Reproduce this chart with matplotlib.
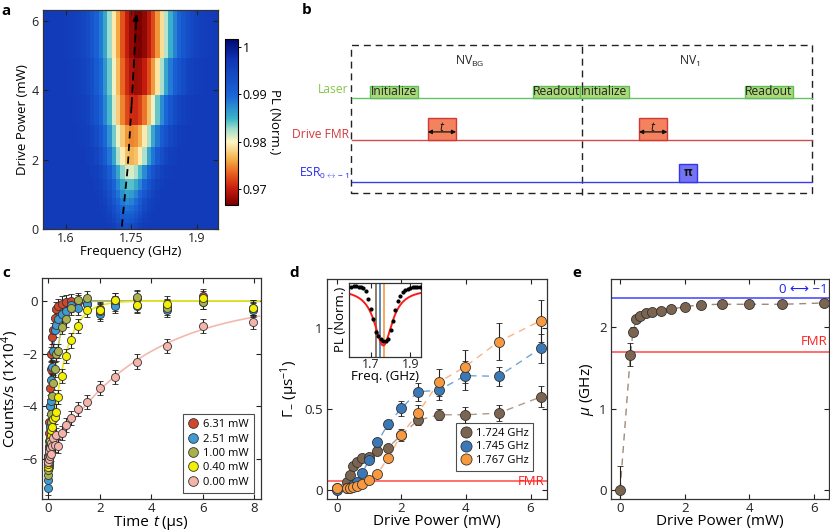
import numpy as np
import matplotlib
matplotlib.use('Agg')
import matplotlib.pyplot as plt
from matplotlib.colors import LinearSegmentedColormap
from matplotlib.patches import Rectangle
from matplotlib.lines import Line2D
from matplotlib.offsetbox import TextArea, HPacker, AnchoredOffsetbox

plt.rcParams['font.family'] = ['Open Sans', 'DejaVu Sans']
plt.rcParams['mathtext.fontset'] = 'custom'
plt.rcParams['mathtext.rm'] = 'Open Sans'
plt.rcParams['mathtext.it'] = 'Open Sans:italic'
plt.rcParams['mathtext.bf'] = 'Open Sans:bold'
plt.rcParams['axes.unicode_minus'] = True

# ---------------- panel a data ----------------
heat_row_edges = [0, 0.16, 0.33, 0.42, 0.53, 0.68, 0.88, 1.12, 1.43, 1.84, 2.35, 3.01, 3.85, 4.93, 6.31]
heat_center = [1.740, 1.740, 1.741, 1.741, 1.742, 1.742, 1.743, 1.745, 1.747, 1.750, 1.752, 1.756, 1.762, 1.766]
heat_min = [0.9935, 0.992, 0.991, 0.990, 0.989, 0.9875, 0.986, 0.984, 0.981, 0.9765, 0.9745, 0.9705, 0.968, 0.9665]
heat_fwhm = [0.045, 0.050, 0.052, 0.055, 0.058, 0.060, 0.065, 0.070, 0.075, 0.085, 0.095, 0.105, 0.115, 0.125]
heat_base = 0.9965
heat_freq_edges = np.arange(1.545, 1.9551, 0.01)
ridge_P = [0.07, 1.76, 3.57, 6.2]
ridge_f = [1.728, 1.7415, 1.7505, 1.762]
cbar_ticks = [0.97, 0.98, 0.99, 1.0]
cbar_labels = ['0.97', '0.98', '0.99', '1']

# ---------------- panel b data (timing, arbitrary units 0..100) ----------------
laser_pulses = [(4.0, 14.3, 'Initialize'), (39.4, 49.6, 'Readout'), (49.6, 60.2, 'Initialize'), (85.4, 95.9, 'Readout')]
fmr_pulses = [(16.5, 22.7), (62.4, 68.6)]
esr_pulses = [(71.1, 75.0)]
row_laser, row_fmr, row_esr = 2.0, 1.0, 0.0
h_laser, h_fmr, h_esr = 0.29, 0.52, 0.43

# ---------------- panel c data ----------------
t_c = [0.0, 0.01, 0.02, 0.03, 0.04, 0.06, 0.08, 0.10, 0.13, 0.16, 0.20, 0.26, 0.30, 0.40, 0.52,
       0.68, 0.87, 1.14, 1.50, 2.00, 2.60, 3.45, 4.60, 6.00, 7.95]
c_631 = [-6.0, -5.9, -5.5, -5.0, -4.6, -4.0, -3.3, -2.6, -2.0, -1.35, -1.1, -0.65, -0.3, -0.2, -0.1,
         -0.05, 0.0, -0.05, -0.1, -0.3, -0.1, 0.1, -0.2, 0.2, -0.3]
c_251 = [-7.1, -6.8, -6.2, -5.6, -5.3, -4.8, -4.0, -3.8, -3.0, -2.5, -1.9, -1.1, -0.9, -0.7, -0.5,
         -0.4, -0.15, -0.25, -0.1, -0.5, -0.2, -0.2, -0.35, -0.05, -0.35]
c_100 = [-6.6, -6.4, -6.3, -6.1, -5.8, -5.5, -5.2, -4.6, -4.3, -3.6, -3.1, -2.6, -2.0, -1.9, -1.0,
         -0.7, -0.25, 0.05, 0.1, -0.4, 0.05, 0.15, -0.25, -0.05, -0.25]
c_040 = [-6.3, -6.2, -6.0, -6.1, -5.9, -5.6, -5.3, -5.1, -4.9, -4.8, -4.5, -4.4, -4.2, -3.65, -2.85,
         -2.1, -1.5, -0.95, -0.35, -0.35, 0.05, -0.15, -0.1, 0.1, -0.25]
c_000 = [-5.9, -6.1, -5.8, -6.0, -5.7, -5.9, -5.6, -5.8, -5.4, -5.5, -5.2, -5.45, -5.1, -5.5, -5.0,
         -4.7, -4.45, -4.1, -3.85, -3.3, -2.9, -2.3, -1.7, -0.95, -0.8]
c_err = 0.27
c_labels = ['6.31 mW', '2.51 mW', '1.00 mW', '0.40 mW', '0.00 mW']
fit_amp = [7.0, 7.0, 7.0, 7.0, 6.0]
fit_tau = [0.10, 0.15, 0.28, 0.55, 3.5]

# ---------------- panel d data ----------------
power = [0, 0.32, 0.40, 0.50, 0.63, 0.79, 1.00, 1.26, 1.58, 2.00, 2.51, 3.16, 3.98, 5.01, 6.31]
g_1724 = [0.01, 0.05, 0.09, 0.145, 0.17, 0.195, 0.205, 0.24, 0.26, 0.34, 0.43, 0.465, 0.465, 0.475, 0.575]
g_1745 = [0.0, 0.01, 0.02, 0.03, 0.05, 0.105, 0.185, 0.295, 0.405, 0.505, 0.607, 0.617, 0.707, 0.703, 0.876]
g_1767 = [0.012, 0.012, 0.015, 0.02, 0.025, 0.035, 0.06, 0.099, 0.196, 0.34, 0.474, 0.666, 0.763, 0.917, 1.047]
e_1724 = [0.01, 0.01, 0.01, 0.01, 0.01, 0.01, 0.015, 0.02, 0.02, 0.025, 0.03, 0.035, 0.05, 0.05, 0.065]
e_1745 = [0.01, 0.01, 0.01, 0.01, 0.01, 0.01, 0.015, 0.02, 0.025, 0.045, 0.055, 0.06, 0.09, 0.06, 0.09]
e_1767 = [0.01, 0.01, 0.01, 0.01, 0.01, 0.01, 0.015, 0.02, 0.025, 0.035, 0.05, 0.085, 0.10, 0.115, 0.13]
d_labels = ['1.724 GHz', '1.745 GHz', '1.767 GHz']
d_freqs = [1.724, 1.745, 1.767]
fmr_gamma = 0.056
inset_f = [1.600, 1.612, 1.625, 1.637, 1.650, 1.662, 1.675, 1.687, 1.700, 1.712, 1.725, 1.737, 1.750,
           1.762, 1.775, 1.787, 1.800, 1.812, 1.825, 1.837, 1.850, 1.862, 1.875, 1.887, 1.900, 1.912,
           1.925, 1.937, 1.950]
inset_pl = [1.0018, 1.0020, 1.0021, 1.0016, 1.0014, 1.0008, 0.9990, 0.9940, 0.9875, 0.9815, 0.9735,
            0.9712, 0.9690, 0.9675, 0.9680, 0.9690, 0.9745, 0.9800, 0.9870, 0.9925, 0.9960, 0.9985,
            0.9998, 1.0005, 1.0010, 1.0013, 1.0012, 1.0015, 1.0013]
inset_fit = dict(center=1.763, fwhm=0.11, depth=0.0355, base=1.0005)

# ---------------- panel e data ----------------
mu = [0.0, 1.66, 1.946, 2.094, 2.14, 2.17, 2.18, 2.20, 2.22, 2.25, 2.275, 2.28, 2.28, 2.28, 2.296]
mu_err = [0.30, 0.14, 0.05, 0.03, 0.02, 0.02, 0.02, 0.02, 0.02, 0.02, 0.02, 0.02, 0.02, 0.02, 0.02]
esr_level = 2.36
fmr_level = 1.70

# ---------------- styles ----------------
W, H = 830, 530
def rect(x0, y0, x1, y1):
    return [x0 / W, 1 - y1 / H, (x1 - x0) / W, (y1 - y0) / H]

SPINE = '#333333'
col_c = ['#d2472c', '#3f9bd3', '#a9b14c', '#f2f000', '#f5b3aa']
fitcol_c = ['#e4503a', '#4a9bd0', '#b8c064', '#e8e826', '#f4b8ae']
col_d = ['#7b6450', '#3b78b8', '#f8983f']
dash_d = ['#b09a86', '#6ea4d6', '#f8b488']

def style_axes(ax, tick=9, xpad=2):
    for s in ax.spines.values():
        s.set_color(SPINE)
        s.set_linewidth(0.9)
    ax.tick_params(direction='in', length=3.5, width=0.8, top=True, right=True,
                   labelsize=tick, colors='#222222', pad=3)
    ax.tick_params(axis='x', pad=xpad)

fig = plt.figure(figsize=(W / 100, H / 100), dpi=100)

# ================= panel a =================
cmap = LinearSegmentedColormap.from_list('pl', [
    (0.0, '#7a0000'), (0.10, '#c81e10'), (0.19, '#e8601e'), (0.27, '#f2ac44'),
    (0.38, '#fff6c4'), (0.46, '#9edccc'), (0.52, '#3cb4c8'), (0.66, '#1a66d8'),
    (0.88, '#1034b4'), (1.0, '#000a6e')])
vmin, vmax = 0.9665, 1.0018
axa = fig.add_axes(rect(43, 10, 218, 229))
fc = 0.5 * (heat_freq_edges[:-1] + heat_freq_edges[1:])
Z = np.array([heat_base - (heat_base - m) * np.exp(-4 * np.log(2) * (fc - c) ** 2 / w ** 2)
              for c, m, w in zip(heat_center, heat_min, heat_fwhm)])
mesh = axa.pcolormesh(heat_freq_edges, heat_row_edges, Z, cmap=cmap, vmin=vmin, vmax=vmax, shading='flat')
axa.plot(ridge_f[:-1], ridge_P[:-1], color='black', lw=1.3, dashes=(4, 3))
axa.annotate('', xy=(ridge_f[-1], ridge_P[-1]), xytext=(ridge_f[-2], ridge_P[-2]),
             arrowprops=dict(arrowstyle='-|>', color='black', lw=1.3, linestyle=(0, (4, 3)),
                             mutation_scale=9, shrinkA=0, shrinkB=0))
axa.set_xlim(1.547, 1.949)
axa.set_ylim(0, 6.31)
axa.set_xticks([1.6, 1.75, 1.9])
axa.set_xticklabels(['1.6', '1.75', '1.9'])
axa.set_yticks([0, 2, 4, 6])
style_axes(axa, tick=9)
axa.set_xlabel('Frequency (GHz)', fontsize=9.5, labelpad=0)
axa.set_ylabel('Drive Power (mW)', fontsize=9.5, labelpad=2)

cax = fig.add_axes(rect(225, 39, 238, 205))
cb = fig.colorbar(mesh, cax=cax, ticks=cbar_ticks)
cb.ax.set_yticklabels(cbar_labels)
cb.ax.tick_params(labelsize=9, length=2.5, width=0.7, direction='out', pad=1)
cb.outline.set_linewidth(0.8)
cb.set_label('PL (Norm.)', fontsize=9.5, rotation=270, labelpad=10)

# ================= panel b =================
axb = fig.add_axes(rect(345, 40, 820, 200))
axb.set_xlim(-1.456, 101.74)
axb.set_ylim(-0.421, 3.388)
axb.axis('off')
axb.plot([-0.2, 100, 100, -0.2, -0.2], [-0.255, -0.255, 3.27, 3.27, -0.255], color='#222222',
         lw=1.0, dashes=(5, 3.5), clip_on=False)
axb.plot([50, 50], [-0.3, 3.27], color='#222222', lw=1.0, dashes=(5, 3.5), clip_on=False)
axb.plot([0, 100], [row_laser, row_laser], color='#66c266', lw=1.0)
axb.plot([0, 100], [row_fmr, row_fmr], color='#d44c4c', lw=1.0)
axb.plot([0, 100], [row_esr, row_esr], color='#3b3bf0', lw=1.0)
for x0, x1, lab in laser_pulses:
    axb.add_patch(Rectangle((x0, row_laser), x1 - x0, h_laser, facecolor='#abd977',
                            edgecolor='#5fbf5f', lw=1.0, zorder=3))
    axb.text((x0 + x1) / 2, row_laser + h_laser / 2 + 0.02, lab, ha='center', va='center',
             fontsize=8.7, color='#222222', zorder=4)
for x0, x1 in fmr_pulses:
    axb.add_patch(Rectangle((x0, row_fmr), x1 - x0, h_fmr, facecolor='#f3835e',
                            edgecolor='#d23a3a', lw=1.0, zorder=3))
    axb.annotate('', xy=(x0, row_fmr + 0.2), xytext=(x1, row_fmr + 0.2),
                 arrowprops=dict(arrowstyle='<|-|>', color='#111111', lw=0.9,
                                 mutation_scale=6, shrinkA=0, shrinkB=0), zorder=4)
    axb.text((x0 + x1) / 2, row_fmr + 0.3, '$t$', ha='center', va='center', fontsize=8.5,
             color='#111111', zorder=4)
for x0, x1 in esr_pulses:
    axb.add_patch(Rectangle((x0, row_esr), x1 - x0, h_esr, facecolor='#7474f2',
                            edgecolor='#3434e8', lw=1.0, zorder=3))
    axb.text((x0 + x1) / 2, row_esr + h_esr / 2 + 0.02, 'π', ha='center', va='center',
             fontsize=8.5, fontweight='bold', color='#111111', zorder=4)
axb.text(-0.6, row_laser + 0.2, 'Laser', ha='right', va='center', fontsize=8.7, color='#86c84a')
axb.text(-0.6, row_fmr + 0.13, 'Drive FMR', ha='right', va='center', fontsize=8.7, color='#d23a3a')
axb.text(-0.6, row_esr + 0.22, r'ESR$_{0\leftrightarrow-1}$', ha='right', va='center',
         fontsize=8.7, color='#2a2af0')
axb.text(25.7, 2.87, r'NV$_{\mathrm{BG}}$', ha='center', va='center', fontsize=8.7, color='#222222')
axb.text(73.5, 2.87, r'NV$_{1}$', ha='center', va='center', fontsize=8.7, color='#222222')

# ================= panel c =================
axc = fig.add_axes(rect(41.7, 278.3, 260.7, 499.3))
tt = np.linspace(0, 8.2, 500)
series_c = [c_631, c_251, c_100, c_040, c_000]
for A, tau, fcol in zip(fit_amp, fit_tau, fitcol_c):
    axc.plot(tt, -A * np.exp(-tt / tau), color=fcol, lw=1.2, zorder=2)
for ys, col in zip(series_c, col_c):
    axc.errorbar(t_c, ys, yerr=c_err, fmt='o', ms=5.8, mfc=col, mec='#333333', mew=0.6,
                 ecolor='#222222', elinewidth=0.8, capsize=2, capthick=0.8, zorder=3)
axc.set_xlim(-0.25, 8.25)
axc.set_ylim(-7.53, 0.86)
axc.set_xticks([0, 2, 4, 6, 8])
axc.set_yticks([0, -2, -4, -6])
style_axes(axc, tick=9.5, xpad=2)
tp = dict(fontsize=11, color='black')
xlab_c = HPacker(children=[TextArea('Time ', textprops=tp),
                           TextArea('t', textprops=dict(tp, style='italic')),
                           TextArea(' (μs)', textprops=tp)], align='baseline', pad=0, sep=0)
axc.add_artist(AnchoredOffsetbox(loc='upper center', child=xlab_c, pad=0, borderpad=0, frameon=False,
                                 bbox_to_anchor=(0.5, -0.07), bbox_transform=axc.transAxes))
axc.set_ylabel(r'Counts/s (1x10$^{4}$)', fontsize=11, labelpad=1)
hc = [Line2D([], [], ls='', marker='o', ms=7, mfc=c, mec='#333333', mew=0.6) for c in col_c]
lg = axc.legend(hc, c_labels, loc='lower right', fontsize=8, frameon=True, fancybox=False,
                edgecolor='#222222', handletextpad=0.4, borderpad=0.45, labelspacing=0.3,
                handlelength=1.0, borderaxespad=0.6)
lg.get_frame().set_linewidth(0.8)

# ================= panel d =================
axd = fig.add_axes(rect(326.7, 279, 546.7, 499.3))
axd.axhline(fmr_gamma, color='#ff4848', lw=1.1, zorder=1)
for ys, es, col, dc in zip([g_1724, g_1745, g_1767], [e_1724, e_1745, e_1767], col_d, dash_d):
    axd.plot(power, ys, color=dc, lw=1.0, dashes=(5, 4), zorder=2)
    axd.errorbar(power, ys, yerr=es, fmt='o', ms=7.2, mfc=col, mec='#333333', mew=0.6,
                 ecolor='#222222', elinewidth=0.8, capsize=2.5, capthick=0.8, zorder=3)
axd.text(6.42, 0.01, 'FMR', color='#ff2020', fontsize=9.5, ha='right', va='bottom')
axd.set_xlim(-0.31, 6.5)
axd.set_ylim(-0.058, 1.305)
axd.set_xticks([0, 2, 4, 6])
axd.set_yticks([0, 0.5, 1])
axd.set_yticklabels(['0', '0.5', '1'])
style_axes(axd, tick=9.5)
axd.set_xlabel('Drive Power (mW)', fontsize=11, labelpad=-1)
axd.set_ylabel(r'$\Gamma_{-}$ (μs$^{-1}$)', fontsize=11, labelpad=2)
hd = [Line2D([], [], ls='', marker='o', ms=8, mfc=c, mec='#333333', mew=0.6) for c in col_d]
lg = axd.legend(hd, d_labels, loc='lower right', fontsize=8, frameon=True, fancybox=False,
                edgecolor='#222222', handletextpad=0.4, borderpad=0.4, labelspacing=0.25,
                handlelength=1.0, bbox_to_anchor=(0.965, 0.105))
lg.get_frame().set_linewidth(0.8)

axi = fig.add_axes(rect(349.3, 283, 421, 356.7))
ff = np.linspace(1.59, 1.955, 300)
fit_pl = inset_fit['base'] - inset_fit['depth'] / (1 + ((ff - inset_fit['center']) / (inset_fit['fwhm'] / 2)) ** 2)
for fq, col in zip(d_freqs, col_d):
    axi.axvline(fq, color=col, lw=1.2, zorder=1)
axi.plot(ff, fit_pl, color='#ff1a1a', lw=1.4, zorder=2)
axi.plot(inset_f, inset_pl, 'o', ms=2.0, color='black', zorder=3)
axi.set_xlim(1.59, 1.955)
axi.set_ylim(0.958, 1.004)
axi.set_xticks([1.7, 1.9])
axi.set_yticks([])
style_axes(axi, tick=9, xpad=1)
axi.set_xlabel('Freq. (GHz)', fontsize=9.5, labelpad=-1)
axi.set_ylabel('PL (Norm.)', fontsize=9.5, labelpad=2)

# ================= panel e =================
axe = fig.add_axes(rect(610.7, 279, 828.7, 499.3))
axe.axhline(esr_level, color='#4040ff', lw=1.1, zorder=1)
axe.axhline(fmr_level, color='#ff4848', lw=1.1, zorder=1)
axe.plot(power, mu, color='#9e8a76', lw=1.0, dashes=(5, 4), zorder=2)
axe.errorbar(power, mu, yerr=mu_err, fmt='o', ms=7.2, mfc=col_d[0], mec='#333333', mew=0.6,
             ecolor='#222222', elinewidth=0.8, capsize=2.5, capthick=0.8, zorder=3)
axe.text(6.42, fmr_level + 0.04, 'FMR', color='#ff2020', fontsize=9.5, ha='right', va='bottom')
axe.text(6.42, esr_level + 0.02, '0 ⟷ −1', color='#2020ff', fontsize=9.5, ha='right', va='bottom')
axe.set_xlim(-0.29, 6.46)
axe.set_ylim(-0.11, 2.59)
axe.set_xticks([0, 2, 4, 6])
axe.set_yticks([0, 1, 2])
style_axes(axe, tick=9.5)
axe.set_xlabel('Drive Power (mW)', fontsize=11, labelpad=-1)
axe.set_ylabel(r'$\mu$ (GHz)', fontsize=11, labelpad=2)

for lab, x, y in [('a', 6, 11), ('b', 307, 10), ('c', 6, 273), ('d', 294, 273), ('e', 577, 273)]:
    fig.text(x / W, 1 - y / H, lab, fontsize=11, fontweight='bold', ha='center', va='center')

fig.savefig('out.png', dpi=100)
